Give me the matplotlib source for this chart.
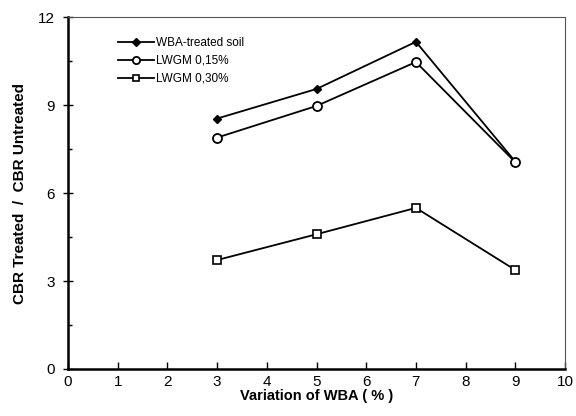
import matplotlib
matplotlib.use("Agg")
import matplotlib.pyplot as plt
from matplotlib.ticker import MultipleLocator

plt.rcParams['font.family'] = ['Liberation Sans', 'DejaVu Sans']

wba = [3, 5, 7, 9]
wba_treated = [8.55, 9.56, 11.17, 7.08]
lwgm_015 = [7.9, 8.98, 10.48, 7.06]
lwgm_030 = [3.72, 4.6, 5.5, 3.38]

fig = plt.figure(figsize=(5.76, 4.16), dpi=100)
ax = fig.add_axes([68/576, 1 - 369/416, (565-68)/576, (369-17.5)/416])

ax.plot(wba, wba_treated, color='black', lw=1.3, marker='D', ms=4.5,
        mfc='black', mec='black', label='WBA-treated soil')
ax.plot(wba, lwgm_015, color='black', lw=1.3, marker='o', ms=6.5,
        mfc='white', mec='black', mew=1.3, label='LWGM 0,15%')
ax.plot(wba, lwgm_030, color='black', lw=1.3, marker='s', ms=6,
        mfc='white', mec='black', mew=1.2, label='LWGM 0,30%')

ax.set_xlim(0, 10)
ax.set_ylim(0, 12)
ax.xaxis.set_major_locator(MultipleLocator(1))
ax.yaxis.set_major_locator(MultipleLocator(3))
ax.yaxis.set_minor_locator(MultipleLocator(1.5))
ax.tick_params(axis='x', direction='in', length=5, width=1, labelsize=11, pad=4)
ax.tick_params(axis='y', which='major', direction='inout', length=7, width=1, labelsize=11, pad=6)
ax.tick_params(axis='y', which='minor', direction='in', length=3, width=1)

for s in ['left', 'bottom']:
    ax.spines[s].set_linewidth(1.8)
for s in ['top', 'right']:
    ax.spines[s].set_linewidth(0.8)
    ax.spines[s].set_color('#555555')

ax.set_xlabel('Variation of WBA ( % )', fontsize=10.5, fontweight='bold', labelpad=0)
ax.set_ylabel('CBR Treated  /  CBR Untreated', fontsize=11, fontweight='bold', labelpad=8)

ax.legend(loc='upper left', bbox_to_anchor=(0.08, 0.975), frameon=False,
          fontsize=8.5, markerscale=0.8, handlelength=3.0, handletextpad=0.2,
          labelspacing=0.5)

fig.savefig('out.png', dpi=100)
